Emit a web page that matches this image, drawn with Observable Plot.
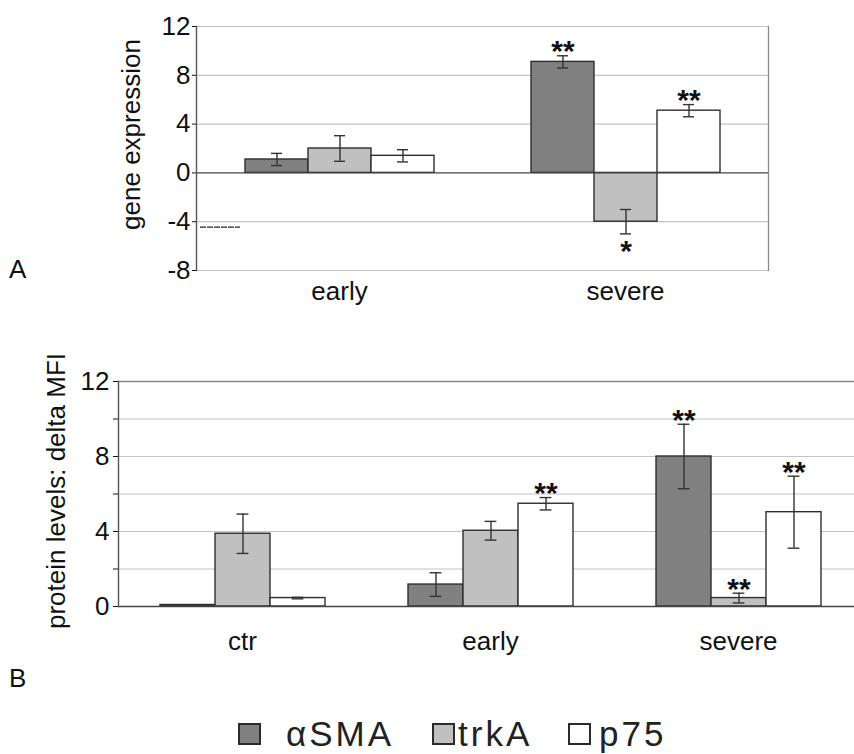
<!DOCTYPE html>
<html>
<head>
<meta charset="utf-8">
<script src="https://cdn.jsdelivr.net/npm/d3@7"></script>
<script src="https://cdn.jsdelivr.net/npm/@observablehq/plot@0.6"></script>
<style>
  body { margin: 0; background: #fff; font-family: "Liberation Sans", Arial, sans-serif; }
  #wrap { position: relative; width: 854px; height: 754px; overflow: hidden; background: #fff; }
  .panel { position: absolute; left: 0; }
  .panel svg { max-width: none !important; }
  .plabel { position: absolute; left: 9px; font-size: 26px; line-height: 26px; color: #111; }
  #legend { position: absolute; left: 0; top: 714px; width: 854px; height: 40px; }
  .lg-item { position: absolute; top: 0; height: 40px; display: flex; align-items: center; }
  .lg-sw { width: 19px; height: 18px; border: 2px solid #2b2b2b; box-sizing: content-box; }
  .lg-tx { font-size: 35px; letter-spacing: 3px; color: #222; line-height: 40px; }
</style>
</head>
<body>
<div id="wrap">
  <div id="panelA" class="panel" style="top:0px"></div>
  <div id="panelB" class="panel" style="top:340px"></div>
  <div class="plabel" style="top:256px">A</div>
  <div class="plabel" style="top:665px">B</div>
  <div id="legend"></div>
</div>
<script>
// ---------- shared ----------
const seriesNames = ["αSMA", "trkA", "p75"];
const seriesColors = ["#808080", "#c0c0c0", "#ffffff"];

// ---------- panel A: gene expression ----------
const geneTitle = "gene expression";
const geneCats = ["early", "severe"];
const geneASMA = [1.1, 9.1];
const geneTrkA = [2.0, -4.0];
const geneP75 = [1.4, 5.1];
const geneASMAErr = [0.5, 0.5];
const geneTrkAErr = [1.05, 1.0];
const geneP75Err = [0.5, 0.5];
const geneASMASig = ["", "**"];
const geneTrkASig = ["", "*"];
const geneP75Sig = ["", "**"];
const geneTicks = [-8, -4, 0, 4, 8, 12];
const geneGrid = [-8, -4, 4, 8, 12];
const geneStrayMark = [-4.45];

// ---------- panel B: protein levels ----------
const protTitle = "protein levels: delta MFI";
const protCats = ["ctr", "early", "severe"];
const protASMA = [0.08, 1.17, 8.0];
const protTrkA = [3.88, 4.04, 0.45];
const protP75 = [0.45, 5.48, 5.03];
const protASMAErr = [0, 0.63, 1.72];
const protTrkAErr = [1.05, 0.5, 0.26];
const protP75Err = [0.04, 0.33, 1.92];
const protASMASig = ["", "", "**"];
const protTrkASig = ["", "", "**"];
const protP75Sig = ["", "**", "**"];
const protTicks = [0, 2, 4, 6, 8, 10, 12];
const protLabelled = [0, 4, 8, 12];
const protGrid = [2, 4, 6, 8, 10];

function buildRows(cats, cols) {
  const rows = [];
  cats.forEach((cat, i) => cols.forEach((c, j) => rows.push({
    cat, series: seriesNames[j], value: c.v[i], err: c.e[i], sig: c.s[i]
  })));
  return rows;
}

const geneRows = buildRows(geneCats, [
  {v: geneASMA, e: geneASMAErr, s: geneASMASig},
  {v: geneTrkA, e: geneTrkAErr, s: geneTrkASig},
  {v: geneP75, e: geneP75Err, s: geneP75Sig}
]);
const protRows = buildRows(protCats, [
  {v: protASMA, e: protASMAErr, s: protASMASig},
  {v: protTrkA, e: protTrkAErr, s: protTrkASig},
  {v: protP75, e: protP75Err, s: protP75Sig}
]);

const font = {fontFamily: "'Liberation Sans', Arial, sans-serif", fontSize: "26px", color: "#111",
              background: "transparent", overflow: "visible", maxWidth: "none"};

function barPanel(o) {
  const rows = o.rows;
  const withErr = rows.filter(d => d.err > 0);
  const marks = [
    Plot.gridY(o.grid, {stroke: "#c4c4c4", strokeOpacity: 1, strokeWidth: 1.2}),
    ...(o.topLine ? [Plot.ruleY(o.topLine, {stroke: "#8a8a8a", strokeWidth: 1.3})] : []),
    Plot.barY(rows, {fx: "cat", x: "series", y: "value", fill: "series", stroke: "#2e2e2e", strokeWidth: 1.4}),
    Plot.ruleY([0], {stroke: "#444", strokeWidth: 1.4}),
    Plot.ruleX(withErr, {fx: "cat", x: "series", y1: d => d.value - d.err, y2: d => d.value + d.err, stroke: "#333", strokeWidth: 1.4}),
    Plot.tickY(withErr, {fx: "cat", x: "series", y: d => d.value - d.err, stroke: "#333", strokeWidth: 1.4, insetLeft: o.capInset, insetRight: o.capInset}),
    Plot.tickY(withErr, {fx: "cat", x: "series", y: d => d.value + d.err, stroke: "#333", strokeWidth: 1.4, insetLeft: o.capInset, insetRight: o.capInset}),
    Plot.text(rows.filter(d => d.sig && d.value >= 0), {fx: "cat", x: "series", y: d => d.value + d.err, text: "sig", lineAnchor: "middle", dy: o.starUp, fontSize: 30, fontWeight: "bold", fill: "#111"}),
    Plot.text(rows.filter(d => d.sig && d.value < 0), {fx: "cat", x: "series", y: d => d.value - d.err, text: "sig", lineAnchor: "middle", dy: o.starDown, fontSize: 30, fontWeight: "bold", fill: "#111"}),
    Plot.frame({anchor: "left", facet: "super", stroke: "#555", strokeWidth: 1.4}),
    ...(o.rightFrame ? [Plot.frame({anchor: "right", facet: "super", stroke: "#8a8a8a", strokeWidth: 1.3})] : []),
    Plot.text([o.title], {facet: "super", frameAnchor: "left", rotate: -90, lineAnchor: "top", textAnchor: "middle",
                          dx: o.titleDx, dy: o.titleDy, fontSize: 26, fill: "#111"}),
    ...(o.extra || [])
  ];
  return Plot.plot({
    width: o.width, height: o.height,
    marginLeft: o.ml, marginRight: o.mr, marginTop: o.mt, marginBottom: o.mb,
    style: font,
    fx: {domain: o.cats, paddingInner: 0, paddingOuter: 0, axis: "bottom", label: null, tickSize: 0, tickPadding: o.fxPad},
    x: {domain: seriesNames, paddingInner: 0, paddingOuter: 0.74, axis: null},
    y: {domain: o.yDomain, ticks: o.ticks, tickFormat: o.tickFormat, tickSize: o.tickSize, tickPadding: o.tickPadding,
        label: null},
    color: {domain: seriesNames, range: seriesColors},
    marks
  });
}

const plotA = barPanel({
  rows: geneRows, cats: geneCats, width: 854, height: 310,
  ml: 196, mr: 86, mt: 26, mb: 40,
  yDomain: [-8, 12], ticks: geneTicks, tickFormat: d => String(d).replace("−", "-"),
  tickSize: 4, tickPadding: 2, title: geneTitle, titleDx: -75, titleDy: -14,
  grid: geneGrid, capInset: 26, starUp: -4, starDown: 17, fxPad: 11, rightFrame: true,
  extra: [
    Plot.ruleY(geneStrayMark.map(y => ({cat: "early", y})), {fx: "cat", y: "y", stroke: "#222", strokeWidth: 1.2, strokeDasharray: "6,1", insetLeft: 4, insetRight: 242})
  ]
});
document.getElementById("panelA").appendChild(plotA);

const plotB = barPanel({
  rows: protRows, cats: protCats, width: 870, height: 316,
  ml: 117, mr: 8, mt: 41, mb: 50,
  yDomain: [0, 12], ticks: protTicks, tickFormat: d => protLabelled.includes(d) ? String(d) : "",
  tickSize: 5, tickPadding: 4, title: protTitle, titleDx: -72, titleDy: -3,
  grid: protGrid, topLine: [12], capInset: 21.6, starUp: -4, starDown: 17, fxPad: 25, rightFrame: false
});
document.getElementById("panelB").appendChild(plotB);

// ---------- legend ----------
const legendX = [238, 432, 568];
const legendGap = [25, 3, 8];
const legend = document.getElementById("legend");
seriesNames.forEach((name, i) => {
  const item = document.createElement("div");
  item.className = "lg-item";
  item.style.left = legendX[i] + "px";
  const sw = document.createElement("div");
  sw.className = "lg-sw";
  sw.style.background = seriesColors[i];
  const tx = document.createElement("span");
  tx.className = "lg-tx";
  tx.style.marginLeft = legendGap[i] + "px";
  tx.textContent = name;
  item.appendChild(sw);
  item.appendChild(tx);
  legend.appendChild(item);
});
</script>
</body>
</html>
